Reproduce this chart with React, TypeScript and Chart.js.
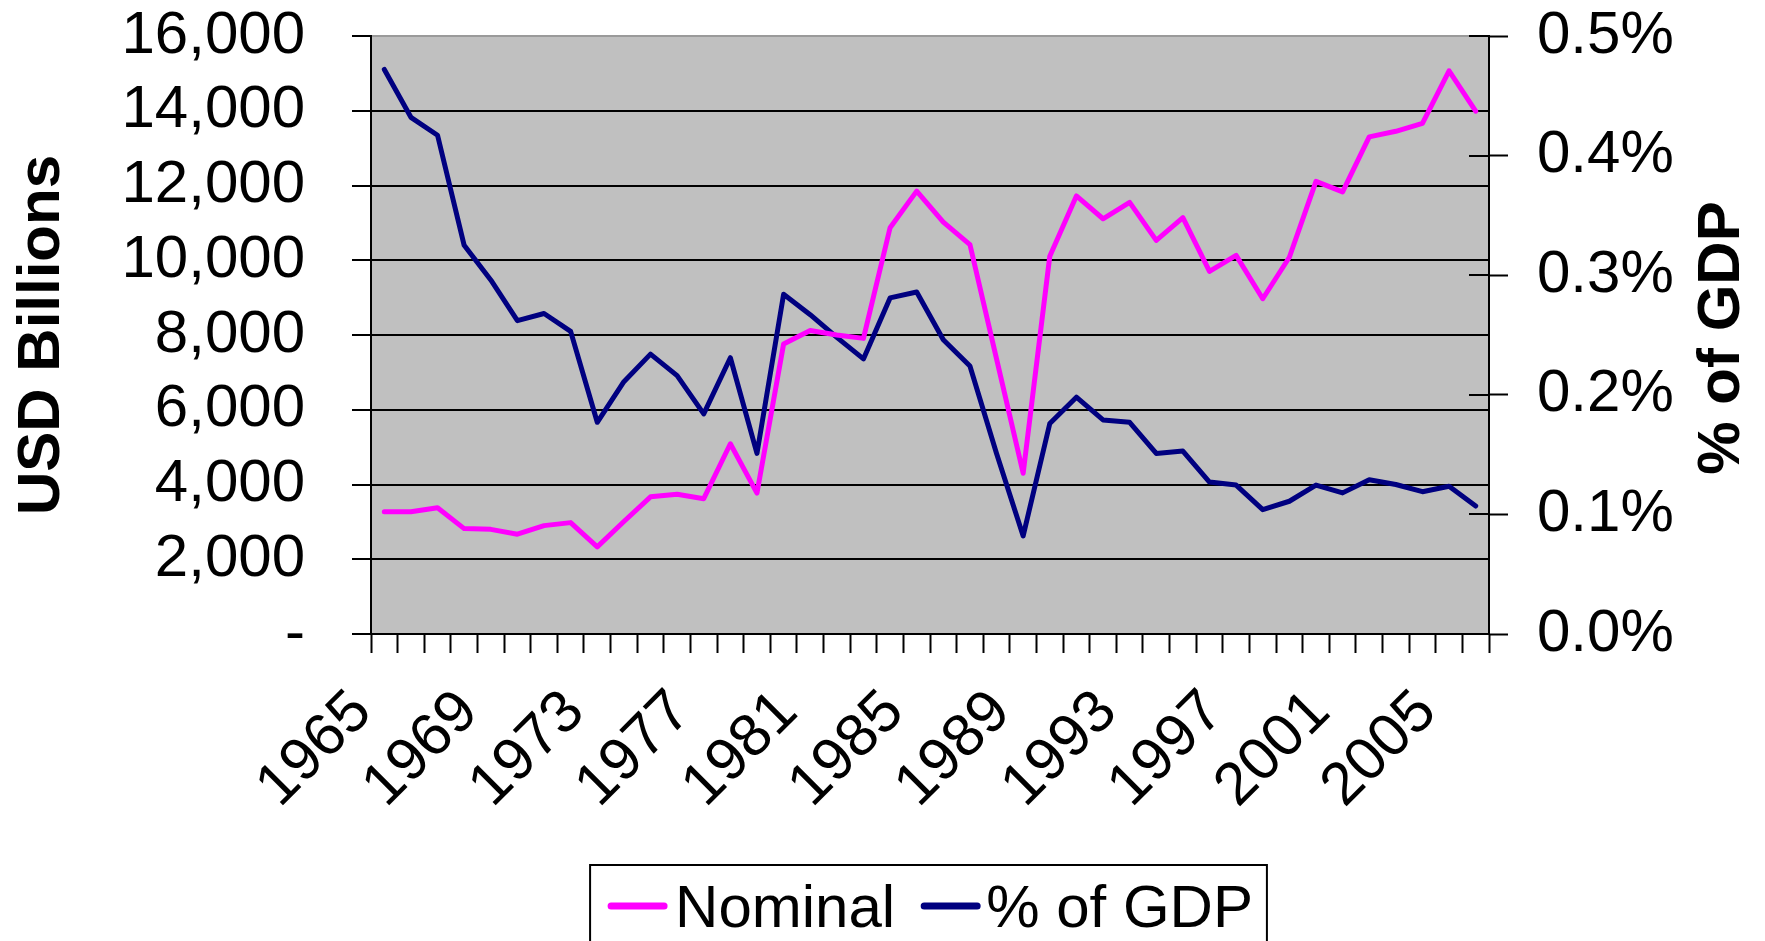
import React, { useEffect, useRef } from 'react';
import { Chart, registerables } from 'chart.js';

Chart.register(...registerables);

const years = [
  '1965', '1966', '1967', '1968', '1969', '1970', '1971', '1972', '1973', '1974',
  '1975', '1976', '1977', '1978', '1979', '1980', '1981', '1982', '1983', '1984',
  '1985', '1986', '1987', '1988', '1989', '1990', '1991', '1992', '1993', '1994',
  '1995', '1996', '1997', '1998', '1999', '2000', '2001', '2002', '2003', '2004',
  '2005', '2006',
];

const nominal = [
  3270, 3270, 3380, 2820, 2800, 2670, 2900, 2980, 2330, 3010,
  3670, 3740, 3620, 5090, 3770, 7760, 8120, 8000, 7910, 10870,
  11850, 11020, 10420, 7360, 4300, 10110, 11720, 11110, 11550, 10530,
  11140, 9700, 10130, 8970, 10080, 12110, 11830, 13300, 13450, 13660,
  15070, 13990,
];

const pctOfGdp = [
  0.472, 0.432, 0.417, 0.325, 0.296, 0.262, 0.268, 0.253, 0.177, 0.211,
  0.234, 0.216, 0.184, 0.231, 0.151, 0.284, 0.267, 0.248, 0.23, 0.281,
  0.286, 0.246, 0.224, 0.151, 0.082, 0.176, 0.198, 0.179, 0.177, 0.151,
  0.153, 0.127, 0.1245, 0.104, 0.111, 0.1245, 0.118, 0.129, 0.125, 0.119,
  0.1235, 0.107,
];

const seriesNames = ['Nominal', '% of GDP'];
const seriesColors = ['#FF00FF', '#000080'];
const leftTitle = 'USD Billions';
const rightTitle = '% of GDP';

const FONT = '"Liberation Sans", Arial, Helvetica, sans-serif';

export default function App() {
  const canvasRef = useRef<HTMLCanvasElement | null>(null);

  useEffect(() => {
    const canvas = canvasRef.current;
    if (!canvas) return;

    const plotBg = {
      id: 'plotBg',
      beforeDraw(chart: any) {
        const { ctx, chartArea } = chart;
        ctx.save();
        ctx.fillStyle = '#C0C0C0';
        ctx.fillRect(chartArea.left, chartArea.top, chartArea.right - chartArea.left, chartArea.bottom - chartArea.top);
        ctx.restore();
      },
    };

    const extras = {
      id: 'extras',
      afterDraw(chart: any) {
        const { ctx, chartArea } = chart;
        const s = chart.scales.y1;
        ctx.save();
        // inner tick marks of right axis
        ctx.strokeStyle = '#000';
        ctx.lineWidth = 2;
        s.ticks.forEach((t: any) => {
          const y = Math.round(s.getPixelForValue(t.value));
          ctx.beginPath();
          ctx.moveTo(s.left - 20, y);
          ctx.lineTo(s.left, y);
          ctx.stroke();
        });
        // right axis title (reads bottom to top)
        ctx.fillStyle = '#000';
        ctx.font = `bold 60px ${FONT}`;
        ctx.translate(chart.width - 43, (chartArea.top + chartArea.bottom) / 2 + 3);
        ctx.rotate(-Math.PI / 2);
        ctx.textAlign = 'center';
        ctx.textBaseline = 'middle';
        ctx.fillText(rightTitle, 0, 0);
        ctx.setTransform(1, 0, 0, 1, 0, 0);

        // legend
        ctx.font = `60px ${FONT}`;
        ctx.textAlign = 'left';
        ctx.textBaseline = 'alphabetic';
        const w1 = ctx.measureText(seriesNames[0]).width;
        const w2 = ctx.measureText(seriesNames[1]).width;
        const markerW = 61;
        const rowW = markerW + 7 + w1 + 25 + markerW + 5 + w2;
        const cx = (chartArea.left + chartArea.right) / 2;
        let x = cx - rowW / 2;
        const boxLeft = x - 17;
        const boxRight = x + rowW + 14;
        const boxTop = 865;
        ctx.lineWidth = 2;
        ctx.strokeStyle = '#000';
        ctx.strokeRect(boxLeft, boxTop, boxRight - boxLeft, 120);
        const markerY = 906;
        const baseY = 927;
        [0, 1].forEach((i) => {
          ctx.strokeStyle = seriesColors[i];
          ctx.lineWidth = 7;
          ctx.lineCap = 'round';
          ctx.beginPath();
          ctx.moveTo(x + 4, markerY);
          ctx.lineTo(x + markerW - 4, markerY);
          ctx.stroke();
          x += markerW + (i === 0 ? 7 : 5);
          ctx.fillStyle = '#000';
          ctx.fillText(seriesNames[i], x, baseY);
          x += (i === 0 ? w1 : w2) + 25;
        });
        ctx.restore();
      },
    };

    const tickFont = { family: FONT, size: 60 };

    const chart = new Chart(canvas, {
      type: 'line',
      data: {
        labels: years,
        datasets: [
          {
            label: seriesNames[0],
            data: nominal,
            yAxisID: 'y',
            borderColor: seriesColors[0],
            backgroundColor: seriesColors[0],
            borderWidth: 5,
            pointRadius: 0,
            tension: 0,
            borderJoinStyle: 'round',
            borderCapStyle: 'round',
          },
          {
            label: seriesNames[1],
            data: pctOfGdp,
            yAxisID: 'y1',
            borderColor: seriesColors[1],
            backgroundColor: seriesColors[1],
            borderWidth: 5,
            pointRadius: 0,
            tension: 0,
            borderJoinStyle: 'round',
            borderCapStyle: 'round',
          },
        ],
      },
      options: {
        animation: false,
        responsive: true,
        maintainAspectRatio: false,
        devicePixelRatio: 1,
        layout: { padding: { top: 36, left: 0, right: 0, bottom: 0 } },
        plugins: {
          legend: { display: false },
          tooltip: { enabled: false },
        },
        scales: {
          x: {
            type: 'category',
            offset: true,
            grid: {
              offset: true,
              drawOnChartArea: false,
              drawTicks: true,
              tickLength: 19,
              tickColor: '#000',
              tickWidth: 2,
              color: '#000',
            },
            border: { color: '#000', width: 2 },
            ticks: {
              autoSkip: false,
              maxRotation: 45,
              minRotation: 45,
              labelOffset: -22,
              padding: 24,
              color: '#000',
              font: tickFont,
              callback: function (this: any, v: any, i: number) {
                return i % 4 === 0 ? this.getLabelForValue(v) : '';
              },
            },
            afterFit(s: any) {
              s.height = 307;
              s.paddingLeft = 0;
              s.paddingRight = 0;
            },
          },
          y: {
            position: 'left',
            min: 0,
            max: 16000,
            ticks: {
              stepSize: 2000,
              autoSkip: false,
              padding: 47,
              color: '#000',
              font: tickFont,
              callback: (v: any) => (Number(v) === 0 ? '-' : Number(v).toLocaleString('en-US')),
            },
            grid: {
              color: (ctx: any) => (ctx.tick && ctx.tick.value === 16000 ? '#9a9a9a' : '#000'),
              lineWidth: 2,
              tickLength: 19,
              tickColor: '#000',
              tickWidth: 2,
            },
            border: { color: '#000', width: 2 },
            title: {
              display: true,
              text: leftTitle,
              color: '#000',
              font: { family: FONT, size: 60, weight: 'bold' },
              padding: { top: 6, bottom: 0 },
            },
            afterFit(s: any) {
              s.width = 371;
              s.paddingTop = 0;
              s.paddingBottom = 0;
            },
          },
          y1: {
            position: 'right',
            min: 0,
            max: 0.5,
            ticks: {
              stepSize: 0.1,
              autoSkip: false,
              padding: 29,
              color: '#000',
              font: tickFont,
              callback: (v: any) => Number(v).toFixed(1) + '%',
            },
            grid: {
              drawOnChartArea: false,
              tickLength: 19,
              tickColor: '#000',
              tickWidth: 2,
            },
            border: { color: '#000', width: 2 },
            afterFit(s: any) {
              s.width = 276;
              s.paddingTop = 0;
              s.paddingBottom = 0;
            },
          },
        },
      },
      plugins: [plotBg, extras],
    } as any);

    return () => chart.destroy();
  }, []);

  return (
    <div style={{ position: 'fixed', left: 0, top: 0, width: 1765, height: 941, background: '#fff' }}>
      <canvas ref={canvasRef} />
    </div>
  );
}
